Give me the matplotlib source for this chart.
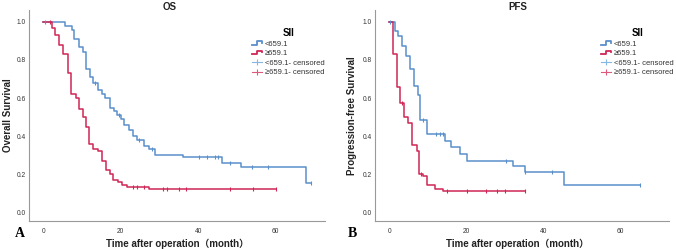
import numpy as np
import matplotlib
matplotlib.use('Agg')
import matplotlib.pyplot as plt
from matplotlib.lines import Line2D
from matplotlib.legend_handler import HandlerBase

plt.rcParams['font.family'] = ['Liberation Sans', 'Noto Sans CJK SC', 'DejaVu Sans']

# OS, SII < 659.1
os_hi_t = [0, 5.6, 7.3, 7.9, 9.1, 10.2, 11.0, 12.1, 12.9, 14.0, 15.1, 15.9, 17.2, 18.3, 19.1,
           20.0, 20.9, 22.0, 23.1, 24.1, 26.0, 27.2, 28.9, 36.0, 46.0, 50.9, 67.9, 69.0]
os_hi_s = [1.0, 0.98, 0.96, 0.91, 0.87, 0.84, 0.75, 0.71, 0.68, 0.64, 0.62, 0.60, 0.55, 0.53, 0.51,
           0.49, 0.46, 0.43, 0.40, 0.38, 0.35, 0.33, 0.30, 0.288, 0.26, 0.235, 0.155, 0.155]
os_hi_cens = [0.5, 13.4, 19.5, 24.6, 28.0, 40.2, 42.2, 44.2, 45.2, 48.1, 53.8, 58.0, 69.0]

# OS, SII >= 659.1
os_lo_t = [0, 2.2, 3.0, 4.1, 5.2, 6.3, 7.2, 8.4, 9.1, 10.2, 11.0, 11.9, 12.9, 14.1, 15.1,
           16.1, 17.2, 18.1, 19.4, 20.4, 21.6, 27.2, 60.0]
os_lo_s = [1.0, 0.97, 0.93, 0.88, 0.83, 0.73, 0.62, 0.60, 0.54, 0.50, 0.45, 0.36, 0.33, 0.32, 0.27,
           0.22, 0.20, 0.17, 0.16, 0.14, 0.13, 0.12, 0.12]
os_lo_cens = [1.7, 23.1, 24.1, 26.0, 31.0, 31.9, 35.1, 36.9, 48.1, 54.0, 60.0]

# PFS, SII < 659.1
pfs_hi_t = [0, 1.5, 2.3, 3.2, 4.3, 5.4, 6.5, 7.4, 8.1, 9.7, 14.6, 16.1, 18.3, 20.3, 32.2, 35.2, 45.3, 65.2]
pfs_hi_s = [1.0, 0.955, 0.925, 0.875, 0.82, 0.755, 0.665, 0.615, 0.485, 0.41, 0.375, 0.34, 0.305,
            0.27, 0.24, 0.21, 0.14, 0.14]
pfs_hi_cens = [0.2, 8.8, 12.2, 13.1, 13.9, 30.3, 35.2, 42.3, 65.2]

# PFS, SII >= 659.1
pfs_lo_t = [0, 1.0, 2.0, 2.9, 3.9, 4.9, 6.0, 7.1, 7.8, 8.8, 9.9, 12.0, 14.0, 35.2]
pfs_lo_s = [1.0, 0.83, 0.66, 0.575, 0.50, 0.47, 0.355, 0.32, 0.20, 0.19, 0.145, 0.12, 0.11, 0.11]
pfs_lo_cens = [3.3, 8.2, 15.1, 20.1, 25.2, 28.0, 30.2, 35.2]

groups = ['<659.1', '\u2265659.1']
blue = '#5b8fcb'
red = '#cf2655'
blue_c = '#86b6e2'
red_c = '#dd5a7c'
grey = '#999999'


def surv_at(t, s, x):
    idx = np.searchsorted(t, x, side='right') - 1
    return np.asarray(s)[idx]


class StepHandler(HandlerBase):
    def create_artists(self, legend, orig_handle, xd, yd, w, h, fontsize, trans):
        xs = np.array([0, 0.45, 0.45, 1.0, 1.0]) * w - xd
        ys = np.array([0.15, 0.15, 0.85, 0.85, 0.55]) * h - yd
        ln = Line2D(xs, ys, color=orig_handle.get_color(), lw=1.3)
        ln.set_transform(trans)
        return [ln]


def km_panel(ax, hi_t, hi_s, hi_c, lo_t, lo_s, lo_c, title, ylabel,
             title_x, xlabel_x, leg_x):
    ax.step(hi_t, hi_s, where='post', color=blue, lw=1.1)
    ax.step(lo_t, lo_s, where='post', color=red, lw=1.1)
    ax.plot(hi_c, surv_at(hi_t, hi_s, hi_c), ls='none', marker='|', ms=3.5, mew=0.8, color=blue)
    ax.plot(lo_c, surv_at(lo_t, lo_s, lo_c), ls='none', marker='|', ms=3.5, mew=0.8, color=red)

    ax.set_xlim(-3.7, 72.7)
    ax.set_ylim(-0.047, 1.063)
    ax.set_xticks([0, 20, 40, 60])
    ax.set_yticks([0.0, 0.2, 0.4, 0.6, 0.8, 1.0])
    ax.set_yticklabels(['0.0', '0.2', '0.4', '0.6', '0.8', '1.0'])
    ax.tick_params(length=0, labelsize=4.8, labelcolor='#333333')
    ax.tick_params(axis='x', pad=5)
    ax.tick_params(axis='y', pad=2.5)
    for side in ['top', 'right']:
        ax.spines[side].set_visible(False)
    for side in ['left', 'bottom']:
        ax.spines[side].set_color(grey)
        ax.spines[side].set_linewidth(0.8)

    ax.set_title(title, fontsize=7, fontweight='bold', x=title_x, y=1.0, pad=0.3, color='#222222')
    ax.set_xlabel('Time after operation\uff08month\uff09', fontsize=7, fontweight='bold', color='#222222')
    ax.xaxis.set_label_coords(xlabel_x, -0.085)
    ax.set_ylabel(ylabel, fontsize=7, fontweight='bold', color='#222222')

    handles = [Line2D([], [], color=blue), Line2D([], [], color=red),
               Line2D([], [], color=blue_c, lw=0.8, marker='|', ms=5, mew=0.8),
               Line2D([], [], color=red_c, lw=0.8, marker='|', ms=5, mew=0.8)]
    labels = groups + [g + '- censored' for g in groups]
    leg = ax.legend(handles, labels, title='SII', loc='upper left', bbox_to_anchor=(leg_x, 0.915),
                    frameon=False, fontsize=5.5, handlelength=1.3, handletextpad=0.3,
                    labelspacing=0.3, borderaxespad=0, borderpad=0,
                    handler_map={handles[0]: StepHandler(), handles[1]: StepHandler()})
    leg.get_title().set_fontweight('bold')
    leg.get_title().set_fontsize(7)
    leg._legend_box.align = 'center'
    for t in leg.get_texts():
        t.set_color('#333333')


fig = plt.figure(figsize=(6.76, 2.49), dpi=100)
ax1 = fig.add_axes([29 / 676, 1 - 221 / 249, 296 / 676, 211 / 249])
ax2 = fig.add_axes([375 / 676, 1 - 221 / 249, 294 / 676, 211 / 249])

km_panel(ax1, os_hi_t, os_hi_s, os_hi_cens, os_lo_t, os_lo_s, os_lo_cens,
         'OS', 'Overall Survival', 0.476, 0.5, 0.755)
ax1.yaxis.set_label_coords(-0.055, 0.5)
km_panel(ax2, pfs_hi_t, pfs_hi_s, pfs_hi_cens, pfs_lo_t, pfs_lo_s, pfs_lo_cens,
         'PFS', 'Progression-free Survival', 0.486, 0.485, 0.77)
ax2.yaxis.set_label_coords(-0.061, 0.5)

fig.text(15 / 676, 1 - 233 / 249, 'A', fontsize=10, fontweight='bold', family='Liberation Serif', va='center')
fig.text(348 / 676, 1 - 233 / 249, 'B', fontsize=10, fontweight='bold', family='Liberation Serif', va='center')

fig.savefig('out.png', dpi=100)
